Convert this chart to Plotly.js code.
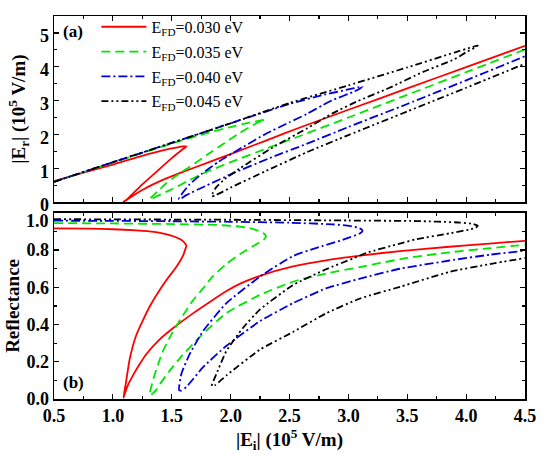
<!DOCTYPE html>
<html>
<head>
<meta charset="utf-8">
<script src="https://cdn.plot.ly/plotly-3.0.1.min.js"></script>
<style>html,body{margin:0;padding:0;background:#fff}#chart{width:550px;height:456px}</style>
</head>
<body>
<div id="chart"></div>
<script>
// Legend labels / series names
var seriesNames = ['E<sub>FD</sub>=0.030 eV', 'E<sub>FD</sub>=0.035 eV', 'E<sub>FD</sub>=0.040 eV', 'E<sub>FD</sub>=0.045 eV'];

// Tick labels
var xTickVals = [0.5, 1.0, 1.5, 2.0, 2.5, 3.0, 3.5, 4.0, 4.5];
var rTickVals = [0.0, 0.2, 0.4, 0.6, 0.8];
var rTopLabel = '1.0';
var eTickVals = [0, 1, 2, 3, 4, 5];

// ---- Panel (a): |Er| vs |Ei| (each curve: upper branch -> turning point -> middle branch -> minimum -> lower branch)
var redTopX = [0.5,0.75,1.0,1.25,1.45,1.55,1.60,1.625, 1.615,1.585,1.50,1.40,1.30,1.23,1.16,1.12,1.09, 1.12,1.17,1.25,1.4,1.6,1.8,2.0,2.3,2.6,3.0,3.5,4.0,4.5];
var redTopY = [0.62,0.87,1.11,1.37,1.55,1.62,1.645,1.65, 1.62,1.54,1.30,0.99,0.68,0.46,0.22,0.08,0.01, 0.07,0.19,0.36,0.62,0.90,1.16,1.42,1.82,2.22,2.73,3.36,3.99,4.62];

var greenTopX = [0.5,1.0,1.5,1.8,2.0,2.15,2.25,2.29, 2.27,2.22,2.08,1.95,1.8,1.7,1.6,1.5,1.45,1.40,1.35,1.32,1.31, 1.33,1.37,1.5,1.65,1.8,2.0,2.3,2.6,3.0,3.5,4.0,4.5];
var greenTopY = [0.60,1.17,1.73,2.04,2.22,2.34,2.41,2.43, 2.40,2.33,2.05,1.75,1.40,1.15,0.93,0.68,0.55,0.38,0.22,0.12,0.09, 0.10,0.17,0.38,0.65,0.90,1.18,1.58,1.97,2.50,3.17,3.84,4.51];

var blueTopX = [0.5,1.0,1.5,2.0,2.5,2.8,3.0,3.08,3.12, 3.10,3.05,2.87,2.785,2.644,2.5,2.3,2.1,1.9,1.75,1.65,1.59,1.56, 1.58,1.62,1.8,2.0,2.33,2.644,3.0,3.5,4.0,4.5];
var blueTopY = [0.60,1.18,1.75,2.33,2.90,3.18,3.33,3.39,3.41, 3.36,3.27,3.02,2.87,2.60,2.36,2.02,1.62,1.20,0.82,0.52,0.26,0.09, 0.11,0.20,0.50,0.82,1.30,1.72,2.22,2.90,3.60,4.31];

var blackTopX = [0.5,1.0,1.5,2.0,2.5,3.0,3.5,3.9,4.05,4.10, 4.07,4.0,3.9,3.635,3.35,3.07,2.87,2.644,2.36,2.08,1.95,1.88,1.85,1.84, 1.87,2.0,2.3,2.644,3.0,3.5,4.0,4.5];
var blackTopY = [0.60,1.18,1.75,2.33,2.93,3.45,3.98,4.42,4.58,4.63, 4.56,4.43,4.22,3.85,3.38,2.97,2.63,2.17,1.62,1.00,0.68,0.45,0.28,0.17, 0.20,0.43,0.92,1.47,1.98,2.68,3.38,4.09];

// ---- Panel (b): Reflectance vs |Ei|
var redBotX = [0.5,0.8,1.0,1.2,1.35,1.45,1.52,1.58,1.61,1.625, 1.615,1.596,1.54,1.455,1.313,1.20,1.143,1.109,1.09, 1.105,1.125,1.16,1.22,1.285,1.40,1.51,1.68,1.82,1.965,2.1,2.25,2.53,2.81,3.1,3.44,3.86,4.2,4.5];
var redBotY = [0.917,0.915,0.912,0.906,0.898,0.886,0.873,0.855,0.838,0.824, 0.805,0.77,0.71,0.639,0.497,0.345,0.215,0.08,0.007, 0.035,0.07,0.115,0.18,0.242,0.322,0.38,0.46,0.52,0.58,0.625,0.662,0.712,0.745,0.77,0.795,0.818,0.835,0.85];

var greenBotX = [0.5,1.0,1.5,1.88,2.05,2.16,2.25,2.29,2.30, 2.28,2.22,2.08,1.965,1.85,1.766,1.681,1.596,1.50,1.42,1.37,1.34,1.32,1.31, 1.33,1.37,1.40,1.48,1.57,1.74,1.965,2.248,2.53,2.81,3.1,3.5,3.86,4.2,4.5];
var greenBotY = [0.945,0.943,0.940,0.935,0.928,0.918,0.900,0.885,0.875, 0.855,0.832,0.779,0.726,0.66,0.594,0.53,0.45,0.35,0.25,0.16,0.10,0.05,0.02, 0.025,0.05,0.08,0.15,0.22,0.335,0.462,0.559,0.63,0.674,0.709,0.758,0.788,0.81,0.829];

var blueBotX = [0.5,1.0,1.5,2.0,2.5,2.87,3.01,3.08,3.11,3.12, 3.10,3.01,2.927,2.73,2.53,2.25,1.965,1.766,1.653,1.582,1.562, 1.58,1.625,1.766,1.965,2.248,2.53,2.81,3.1,3.44,3.86,4.2,4.5];
var blueBotY = [0.958,0.957,0.955,0.952,0.947,0.938,0.930,0.920,0.912,0.903, 0.89,0.868,0.85,0.812,0.768,0.658,0.515,0.365,0.242,0.136,0.048, 0.045,0.065,0.171,0.286,0.418,0.515,0.594,0.647,0.70,0.744,0.775,0.797];

var blackBotX = [0.5,1.0,2.0,3.0,3.58,3.95,4.06,4.10, 4.08,4.04,3.86,3.58,3.437,3.154,3.04,2.81,2.53,2.248,2.106,1.965,1.88,1.84, 1.87,1.965,2.248,2.53,2.81,3.1,3.44,3.86,4.2,4.5];
var blackBotY = [0.966,0.965,0.963,0.959,0.956,0.948,0.94,0.93, 0.92,0.912,0.89,0.859,0.835,0.785,0.755,0.697,0.612,0.48,0.383,0.259,0.136,0.07, 0.075,0.127,0.265,0.36,0.46,0.54,0.603,0.683,0.725,0.757];

var colors = ['#ff0000', '#00e600', '#0000dd', '#000000'];
var dashes = ['solid', '9px,5px', '9px,3px,2px,3px', '7px,3px,2px,3px,2px,3px'];

var topX = [redTopX, greenTopX, blueTopX, blackTopX];
var topY = [redTopY, greenTopY, blueTopY, blackTopY];
var botX = [redBotX, greenBotX, blueBotX, blackBotX];
var botY = [redBotY, greenBotY, blueBotY, blackBotY];

var traces = [];
for (var i = 0; i < 4; i++) {
  traces.push({
    x: topX[i], y: topY[i], xaxis: 'x2', yaxis: 'y2', mode: 'lines', type: 'scatter',
    name: seriesNames[i], legendgroup: 'g' + i,
    line: {color: colors[i], width: 1.8, dash: dashes[i], shape: 'spline', smoothing: 0.5}
  });
}
for (var j = 0; j < 4; j++) {
  traces.push({
    x: botX[j], y: botY[j], xaxis: 'x', yaxis: 'y', mode: 'lines', type: 'scatter',
    name: seriesNames[j], legendgroup: 'g' + j, showlegend: false,
    line: {color: colors[j], width: 1.8, dash: dashes[j], shape: 'spline', smoothing: 0.5}
  });
}

var fontFam = 'Liberation Serif';
var tickF = {family: fontFam, size: 18, color: '#000', weight: 'bold'};
var titleF = {family: fontFam, size: 19, color: '#000', weight: 'bold'};

function axisBase() {
  return {
    showline: true, linecolor: '#000', linewidth: 1.5, mirror: 'ticks',
    ticks: 'inside', ticklen: 5, tickwidth: 1.2, tickcolor: '#000',
    showgrid: false, zeroline: false, tickfont: tickF, automargin: false
  };
}

var xa = axisBase();
Object.assign(xa, {domain: [0, 1], anchor: 'y', range: [0.5, 4.5], tickmode: 'array', tickvals: xTickVals, tickformat: '.1f',
  minor: {dtick: 0.25, tick0: 0.5, ticks: 'inside', ticklen: 3, tickcolor: '#000'},
  title: {text: '|E<sub>i</sub>| (10<sup>5</sup> V/m)', font: titleF, standoff: 2}});
var xa2 = axisBase();
Object.assign(xa2, {domain: [0, 1], anchor: 'y2', matches: 'x', range: [0.5, 4.5], tickmode: 'array', tickvals: xTickVals, showticklabels: false,
  minor: {dtick: 0.25, tick0: 0.5, ticks: 'inside', ticklen: 3, tickcolor: '#000'}});
var ya = axisBase();
Object.assign(ya, {domain: [0, 0.486], anchor: 'x', range: [0, 1.0], tickmode: 'array', tickvals: rTickVals, tickformat: '.1f',
  minor: {dtick: 0.1, tick0: 0, ticks: 'inside', ticklen: 3, tickcolor: '#000'},
  title: {text: 'Reflectance', font: titleF, standoff: 1}});
var ya2 = axisBase();
Object.assign(ya2, {domain: [0.514, 1], anchor: 'x2', range: [0, 5.5], tickmode: 'array', tickvals: eTickVals, ticklabelshift: 3,
  minor: {dtick: 0.5, tick0: 0, ticks: 'inside', ticklen: 3, tickcolor: '#000'},
  title: {text: '|E<sub>r</sub>| (10<sup>5</sup> V/m)', font: titleF, standoff: 9}});

var layout = {
  width: 550, height: 456,
  margin: {l: 54, r: 25, t: 10, b: 57},
  paper_bgcolor: '#fff', plot_bgcolor: '#fff',
  xaxis: xa, xaxis2: xa2, yaxis: ya, yaxis2: ya2,
  showlegend: true,
  legend: {x: 0.09, y: 1.016, xanchor: 'left', yanchor: 'top', bgcolor: 'rgba(0,0,0,0)',
    font: {family: fontFam, size: 16, color: '#000'}, itemwidth: 45, tracegroupgap: 1},
  annotations: [
    {text: '(a)', xref: 'paper', yref: 'paper', x: 0.015, y: 0.99, xanchor: 'left', yanchor: 'top', showarrow: false,
      font: {family: fontFam, size: 17, color: '#000', weight: 'bold'}},
    {text: '(b)', xref: 'paper', yref: 'paper', x: 0.015, y: 0.042, xanchor: 'left', yanchor: 'middle', showarrow: false,
      font: {family: fontFam, size: 17, color: '#000', weight: 'bold'}},
    {text: rTopLabel, xref: 'paper', yref: 'y', x: 0, y: 1.0, xanchor: 'right', yanchor: 'middle', xshift: -3, yshift: -8,
      showarrow: false, font: tickF}
  ]
};

Plotly.newPlot('chart', traces, layout, {displayModeBar: false, staticPlot: true});
</script>
</body>
</html>
